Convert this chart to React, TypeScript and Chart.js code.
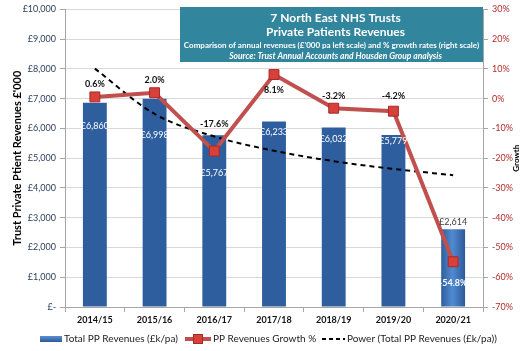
import React, { useEffect, useRef } from "react";
import { Chart, registerables } from "chart.js";

Chart.register(...registerables);

const categories = ["2014/15", "2015/16", "2016/17", "2017/18", "2018/19", "2019/20", "2020/21"];
const revenues = [6860, 6998, 5767, 6233, 6032, 5779, 2614];
const growth = [0.6, 2.0, -17.6, 8.1, -3.2, -4.2, -54.8];
const trend = [8010, 6490, 5730, 5250, 4900, 4640, 4430];
const revenueLabels = ["£6,860", "£6,998", "£5,767", "£6,233", "£6,032", "£5,779", "£2,614"];
const growthLabels = ["0.6%", "2.0%", "-17.6%", "8.1%", "-3.2%", "-4.2%", "-54.8%"];

// label placement (pixel offsets from mark), kept separate from data
const barLabelDy = [23, 36, 38, 11, 12, 6, -7];
const barLabelColor = ["#fff", "#fff", "#fff", "#fff", "#fff", "#fff", "#404040"];
const growthLabelDy = [-13, -13, -27, 16, -12, -15, 21];
const growthLabelColor = ["#111", "#111", "#111", "#111", "#111", "#111", "#fff"];

const FONT = "Lato, 'Open Sans', sans-serif";

const overlayPlugin = {
  id: "overlay",
  beforeDatasetsDraw(chart: any) {
    const meta = chart.getDatasetMeta(0);
    const ctx = chart.ctx;
    meta.data.forEach((el: any) => {
      const w = el.width;
      const g = ctx.createLinearGradient(el.x - w / 2, 0, el.x + w / 2, 0);
      g.addColorStop(0, "#2F5E9E");
      g.addColorStop(0.45, "#5089CE");
      g.addColorStop(0.55, "#4B84C9");
      g.addColorStop(1, "#2C5A98");
      el.options.backgroundColor = g;
    });
  },
  afterDatasetsDraw(chart: any) {
    const ctx = chart.ctx;
    ctx.save();
    ctx.textAlign = "center";
    ctx.textBaseline = "middle";
    const barMeta = chart.getDatasetMeta(0);
    barMeta.data.forEach((el: any, i: number) => {
      ctx.font = `9px ${FONT}`;
      ctx.fillStyle = barLabelColor[i];
      ctx.fillText(revenueLabels[i], el.x, el.y + barLabelDy[i]);
    });
    const lineMeta = chart.getDatasetMeta(1);
    lineMeta.data.forEach((el: any, i: number) => {
      ctx.font = `bold 9px ${FONT}`;
      ctx.fillStyle = growthLabelColor[i];
      ctx.fillText(growthLabels[i], el.x, el.y + growthLabelDy[i]);
    });
    ctx.restore();
  },
  afterDraw(chart: any) {
    const ctx = chart.ctx;
    const area = chart.chartArea;
    ctx.save();
    // title box
    const bx = 180, by = 7, bw = area.right - 180, bh = 55;
    ctx.fillStyle = "#31859C";
    ctx.fillRect(bx, by, bw, bh);
    const cx = bx + bw / 2;
    ctx.fillStyle = "#fff";
    ctx.textAlign = "center";
    ctx.textBaseline = "middle";
    ctx.font = `bold 12px ${FONT}`;
    ctx.fillText("7 North East NHS Trusts", cx + 4, 18);
    ctx.fillText("Private Patients Revenues", cx + 4, 32);
    ctx.font = `bold 8px ${FONT}`;
    ctx.fillText("Comparison of annual revenues (£'000 pa left scale) and % growth rates (right scale)", cx, 45);
    ctx.font = `italic bold 8.5px ${FONT}`;
    ctx.fillText("Source: Trust Annual Accounts and Housden Group analysis", cx + 4, 56);

    // axis titles
    ctx.fillStyle = "#000";
    ctx.save();
    ctx.translate(17, (area.top + area.bottom) / 2);
    ctx.rotate(-Math.PI / 2);
    ctx.font = `bold 11px ${FONT}`;
    ctx.fillText("Trust Private Ptient Revenues £'000", 0, 0);
    ctx.restore();
    ctx.save();
    ctx.translate(516, (area.top + area.bottom) / 2);
    ctx.rotate(-Math.PI / 2);
    ctx.font = `bold 8px ${FONT}`;
    ctx.fillText("Growth", 0, 0);
    ctx.restore();

    // legend
    const ly = 339;
    ctx.textAlign = "left";
    ctx.font = `10px ${FONT}`;
    const g = ctx.createLinearGradient(0, ly - 3, 0, ly + 3);
    g.addColorStop(0, "#5A90D0");
    g.addColorStop(1, "#2C5A98");
    ctx.fillStyle = g;
    ctx.fillRect(40, ly - 3, 22, 6);
    ctx.fillStyle = "#222";
    ctx.fillText("Total PP Revenues (£k/pa)", 64, ly);

    ctx.strokeStyle = "#C0504D";
    ctx.lineWidth = 4;
    ctx.beginPath();
    ctx.moveTo(185, ly);
    ctx.lineTo(211, ly);
    ctx.stroke();
    ctx.fillStyle = "#D8403A";
    ctx.strokeStyle = "#A52A2A";
    ctx.lineWidth = 1;
    ctx.fillRect(193.5, ly - 4.5, 9, 9);
    ctx.strokeRect(193.5, ly - 4.5, 9, 9);
    ctx.fillStyle = "#222";
    ctx.fillText("PP Revenues Growth %", 213, ly);

    ctx.strokeStyle = "#000";
    ctx.lineWidth = 2;
    ctx.setLineDash([4, 3]);
    ctx.beginPath();
    ctx.moveTo(322, ly);
    ctx.lineTo(345, ly);
    ctx.stroke();
    ctx.setLineDash([]);
    ctx.fillText("Power (Total PP Revenues (£k/pa))", 347, ly);
    ctx.restore();
  },
};

export default function App() {
  const ref = useRef<HTMLCanvasElement | null>(null);
  useEffect(() => {
    document.body.style.margin = "0";
    const canvas = ref.current!;
    const chart = new Chart(canvas, {
      type: "bar",
      data: {
        labels: categories,
        datasets: [
          {
            type: "bar",
            label: "Total PP Revenues (£k/pa)",
            data: revenues,
            yAxisID: "y",
            backgroundColor: "#3C74BA",
            barPercentage: 0.5,
            categoryPercentage: 0.8,
            order: 3,
          },
          {
            type: "line",
            label: "PP Revenues Growth %",
            data: growth,
            yAxisID: "y1",
            borderColor: "#C0504D",
            borderWidth: 4,
            pointStyle: "rect",
            pointRadius: 7,
            pointBackgroundColor: "#D8403A",
            pointBorderColor: "#A52A2A",
            pointBorderWidth: 1,
            tension: 0,
            order: 1,
          },
          {
            type: "line",
            label: "Power (Total PP Revenues (£k/pa))",
            data: trend,
            yAxisID: "y",
            borderColor: "#000",
            borderWidth: 2,
            borderDash: [5, 4],
            pointRadius: 0,
            cubicInterpolationMode: "monotone",
            order: 2,
          },
        ],
      },
      options: {
        responsive: false,
        animation: false,
        devicePixelRatio: 1,
        layout: { padding: { top: 7, left: 0, right: 0, bottom: 0 } },
        plugins: { legend: { display: false }, tooltip: { enabled: false } },
        scales: {
          x: {
            grid: { drawOnChartArea: false, offset: true, tickLength: 5, color: "#A6A6A6" },
            border: { color: "#A6A6A6" },
            ticks: { font: { family: FONT, size: 9, weight: "bold" }, color: "#111", padding: 3 },
            afterFit(s: any) {
              s.height = 44;
            },
          },
          y: {
            position: "left",
            min: 0,
            max: 10000,
            ticks: {
              stepSize: 1000,
              font: { family: FONT, size: 9 },
              color: "#2B3F5C",
              padding: 4,
              callback: (v: any) => (v === 0 ? "£-" : "£" + Number(v).toLocaleString("en-GB")),
            },
            grid: { color: "#D9D9D9", tickLength: 5, tickColor: "#A6A6A6" },
            border: { color: "#A6A6A6" },
            afterFit(s: any) {
              s.width = 65;
            },
          },
          y1: {
            position: "right",
            min: -70,
            max: 30,
            ticks: {
              stepSize: 10,
              font: { family: FONT, size: 9 },
              color: "#B02A2A",
              padding: 4,
              callback: (v: any) => v + "%",
            },
            grid: { drawOnChartArea: false, tickLength: 5, color: "#A6A6A6" },
            border: { color: "#A6A6A6" },
            afterFit(s: any) {
              s.width = 46;
            },
          },
        },
      },
      plugins: [overlayPlugin],
    } as any);
    return () => chart.destroy();
  }, []);
  return (
    <div style={{ width: 529, height: 351 }}>
      <canvas ref={ref} width={529} height={351} />
    </div>
  );
}
